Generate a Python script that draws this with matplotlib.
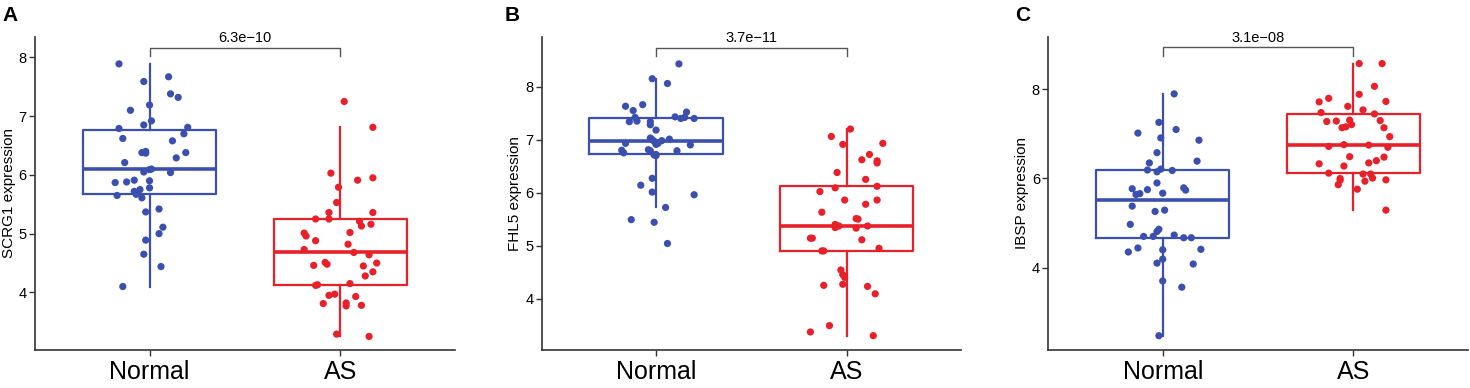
import matplotlib.pyplot as plt

plt.rcParams['font.family'] = ['Liberation Sans', 'DejaVu Sans']

# data
groups = ["Normal", "AS"]
genes = ["SCRG1", "FHL5", "IBSP"]
panel_labels = ["A", "B", "C"]
pvalues = ["6.3e\u221210", "3.7e\u221211", "3.1e\u221208"]

scrg1_normal = [7.89, 7.59, 7.67, 7.38, 7.32, 7.10, 7.19, 6.92, 6.85, 6.79, 6.81, 6.70, 6.62, 6.58,
                6.38, 6.40, 6.37, 6.38, 6.29, 6.21, 6.05, 6.09, 6.04, 5.87, 5.88, 5.91, 5.90, 5.78,
                5.75, 5.72, 5.67, 5.65, 5.61, 5.37, 5.42, 5.11, 5.00, 4.89, 4.65, 4.44, 4.10, 6.10]
scrg1_normal_jit = [-0.16, -0.03, 0.10, 0.11, 0.15, -0.10, 0.00, 0.01, -0.03, -0.16, 0.20, 0.18, -0.14, 0.12,
                    -0.04, -0.02, -0.02, 0.19, 0.14, -0.13, -0.03, 0.00, 0.11, -0.18, -0.12, -0.08, 0.00, 0.00,
                    -0.05, -0.08, -0.07, -0.17, -0.04, -0.02, 0.05, 0.07, 0.05, -0.02, -0.03, 0.06, -0.14, 0.01]
scrg1_as = [7.25, 6.81, 6.03, 5.95, 5.91, 5.79, 5.53, 5.36, 5.36, 5.25, 5.25, 5.21, 5.13, 5.16,
            5.01, 4.96, 5.02, 4.88, 4.82, 4.73, 4.68, 4.64, 4.51, 4.48, 4.46, 4.50, 4.45, 4.35,
            4.28, 4.12, 4.15, 3.95, 3.97, 3.93, 3.81, 3.82, 3.77, 3.78, 3.29, 3.25, 4.13]
scrg1_as_jit = [0.02, 0.17, -0.05, 0.17, 0.09, -0.01, -0.02, -0.06, 0.17, -0.13, -0.06, 0.10, 0.11, 0.16,
                -0.19, -0.18, 0.05, -0.13, 0.04, -0.19, 0.07, 0.15, -0.08, -0.07, -0.14, 0.19, 0.12, 0.17,
                0.13, -0.13, 0.05, -0.06, -0.03, 0.08, -0.09, 0.03, 0.03, 0.11, -0.02, 0.15, -0.12]

fhl5_normal = [8.43, 8.15, 8.06, 7.63, 7.55, 7.66, 7.52, 7.34, 7.35, 7.34, 7.28, 7.43, 7.42, 7.40,
               7.18, 7.01, 7.03, 7.00, 6.93, 6.93, 6.91, 6.90, 6.80, 6.75, 6.81, 6.79, 6.79, 6.71,
               6.70, 6.27, 6.14, 6.01, 5.96, 5.72, 5.49, 5.44, 5.04, 6.72, 6.97, 6.98, 7.40, 7.42]
fhl5_normal_jit = [0.12, -0.02, 0.06, -0.16, -0.12, -0.07, 0.16, -0.14, -0.10, -0.03, -0.03, 0.10, 0.15, 0.20,
                   0.00, 0.07, -0.03, -0.02, -0.16, 0.01, 0.00, 0.18, -0.18, -0.17, -0.04, -0.03, 0.11, -0.01,
                   0.00, -0.02, -0.08, -0.02, 0.20, 0.05, -0.13, -0.01, 0.06, 0.00, -0.01, 0.03, 0.13, -0.11]
fhl5_as = [7.20, 7.06, 6.91, 6.93, 6.72, 6.62, 6.60, 6.56, 6.38, 6.25, 6.02, 6.09, 6.12, 5.86,
           5.86, 5.78, 5.63, 5.51, 5.50, 5.40, 5.37, 5.34, 5.33, 5.37, 5.14, 5.14, 5.11, 4.90,
           4.95, 4.54, 4.45, 4.40, 4.25, 4.27, 4.23, 4.09, 3.49, 3.37, 3.30, 4.90, 5.37]
fhl5_as_jit = [0.02, -0.08, -0.02, 0.19, 0.12, 0.08, 0.16, 0.16, -0.05, 0.10, -0.14, -0.06, 0.16, -0.01,
               0.16, 0.10, -0.13, 0.05, 0.06, -0.06, -0.05, -0.06, 0.05, 0.11, -0.19, -0.18, 0.08, -0.13,
               0.17, -0.03, -0.02, -0.01, -0.12, -0.02, 0.11, 0.15, -0.09, -0.19, 0.14, -0.12, -0.04]

ibsp_normal = [7.90, 7.26, 7.10, 7.02, 6.91, 6.86, 6.58, 6.35, 6.39, 6.19, 6.15, 6.21, 6.18, 5.90,
               5.77, 5.75, 5.79, 5.74, 5.64, 5.66, 5.67, 5.38, 5.26, 5.29, 4.97, 4.86, 4.81, 4.70,
               4.70, 4.73, 4.67, 4.67, 4.44, 4.35, 4.40, 4.41, 4.19, 4.10, 4.08, 3.70, 3.56, 2.47]
ibsp_normal_jit = [0.06, -0.02, 0.07, -0.13, -0.01, 0.19, -0.03, -0.07, 0.18, -0.08, -0.03, -0.01, 0.05, -0.03,
                   -0.16, -0.08, 0.11, 0.12, -0.14, -0.12, 0.00, -0.16, -0.04, 0.01, -0.17, -0.02, -0.03, -0.10,
                   -0.05, 0.06, 0.11, 0.15, -0.13, -0.18, 0.00, 0.20, 0.00, -0.03, 0.16, 0.00, 0.10, -0.02]
ibsp_as = [8.58, 8.58, 8.07, 7.89, 7.80, 7.72, 7.73, 7.62, 7.54, 7.48, 7.45, 7.28, 7.29, 7.31,
           7.30, 7.21, 7.14, 7.16, 7.14, 6.94, 6.72, 6.76, 6.75, 6.70, 6.49, 6.48, 6.40, 6.35,
           6.33, 6.28, 6.12, 6.10, 6.10, 6.00, 5.96, 6.01, 5.97, 5.94, 5.86, 5.76, 5.29]
ibsp_as_jit = [0.03, 0.15, 0.11, 0.03, -0.13, -0.18, 0.17, -0.03, 0.05, -0.17, 0.11, -0.14, -0.09, -0.02,
               0.14, -0.01, -0.06, -0.04, 0.16, 0.19, -0.13, -0.05, 0.08, 0.18, -0.02, 0.16, 0.12, 0.08,
               -0.18, -0.05, -0.13, 0.05, 0.09, -0.07, -0.07, 0.10, 0.17, 0.06, -0.08, 0.02, 0.17]

panels = [
    (scrg1_normal, scrg1_normal_jit, scrg1_as, scrg1_as_jit, (3.02, 8.35), [4, 5, 6, 7, 8]),
    (fhl5_normal, fhl5_normal_jit, fhl5_as, fhl5_as_jit, (3.03, 8.94), [4, 5, 6, 7, 8]),
    (ibsp_normal, ibsp_normal_jit, ibsp_as, ibsp_as_jit, (2.15, 9.18), [4, 6, 8]),
]

colors = ["#3A4FAE", "#E8202A"]
axes_lr = [(0.0238, 0.3095), (0.3685, 0.6537), (0.7131, 0.9986)]
label_x = [0.002, 0.3435, 0.6905]

fig = plt.figure(figsize=(14.7, 3.88), dpi=100)

for k, (norm, norm_j, asv, as_j, ylim, yticks) in enumerate(panels):
    l, r = axes_lr[k]
    ax = fig.add_axes([l, 0.098, r - l, 0.807])
    vals = [norm, asv]
    jits = [norm_j, as_j]
    for i in range(2):
        c = colors[i]
        ax.boxplot([vals[i]], positions=[i + 1], widths=0.7, showfliers=False, showcaps=False,
                   patch_artist=False, zorder=2,
                   boxprops=dict(color=c, linewidth=1.6),
                   whiskerprops=dict(color=c, linewidth=1.6),
                   medianprops=dict(color=c, linewidth=2.6))
        xs = [i + 1 + j for j in jits[i]]
        ax.scatter(xs, vals[i], s=27, color=c, edgecolors='none', zorder=3)

    ax.set_xlim(0.4, 2.6)
    ax.set_ylim(*ylim)
    ax.set_yticks(yticks)
    ax.set_xticks([1, 2])
    ax.set_xticklabels(groups, fontsize=18)
    ax.tick_params(axis='y', labelsize=10.5, length=4, width=1, color='#333333', pad=2)
    ax.tick_params(axis='x', length=4, width=1, color='#333333', pad=3)
    ax.set_ylabel(genes[k] + " expression", fontsize=11, labelpad=2)
    for s in ['top', 'right']:
        ax.spines[s].set_visible(False)
    for s in ['left', 'bottom']:
        ax.spines[s].set_color('#333333')
        ax.spines[s].set_linewidth(1.2)

    # significance bracket
    top = max(max(norm), max(asv))
    span = ylim[1] - ylim[0]
    yb = top + 0.052 * span
    ax.plot([1, 1, 2, 2], [yb - 0.027 * span, yb, yb, yb - 0.027 * span], color='#555555',
            linewidth=1, clip_on=False)
    ax.text(1.5, yb + 0.008 * span, pvalues[k], ha='center', va='bottom', fontsize=10.5)

    fig.text(label_x[k], 0.985, panel_labels[k], fontsize=15,
             fontweight='bold', va='top', ha='left')

fig.savefig("out.png", dpi=100)
